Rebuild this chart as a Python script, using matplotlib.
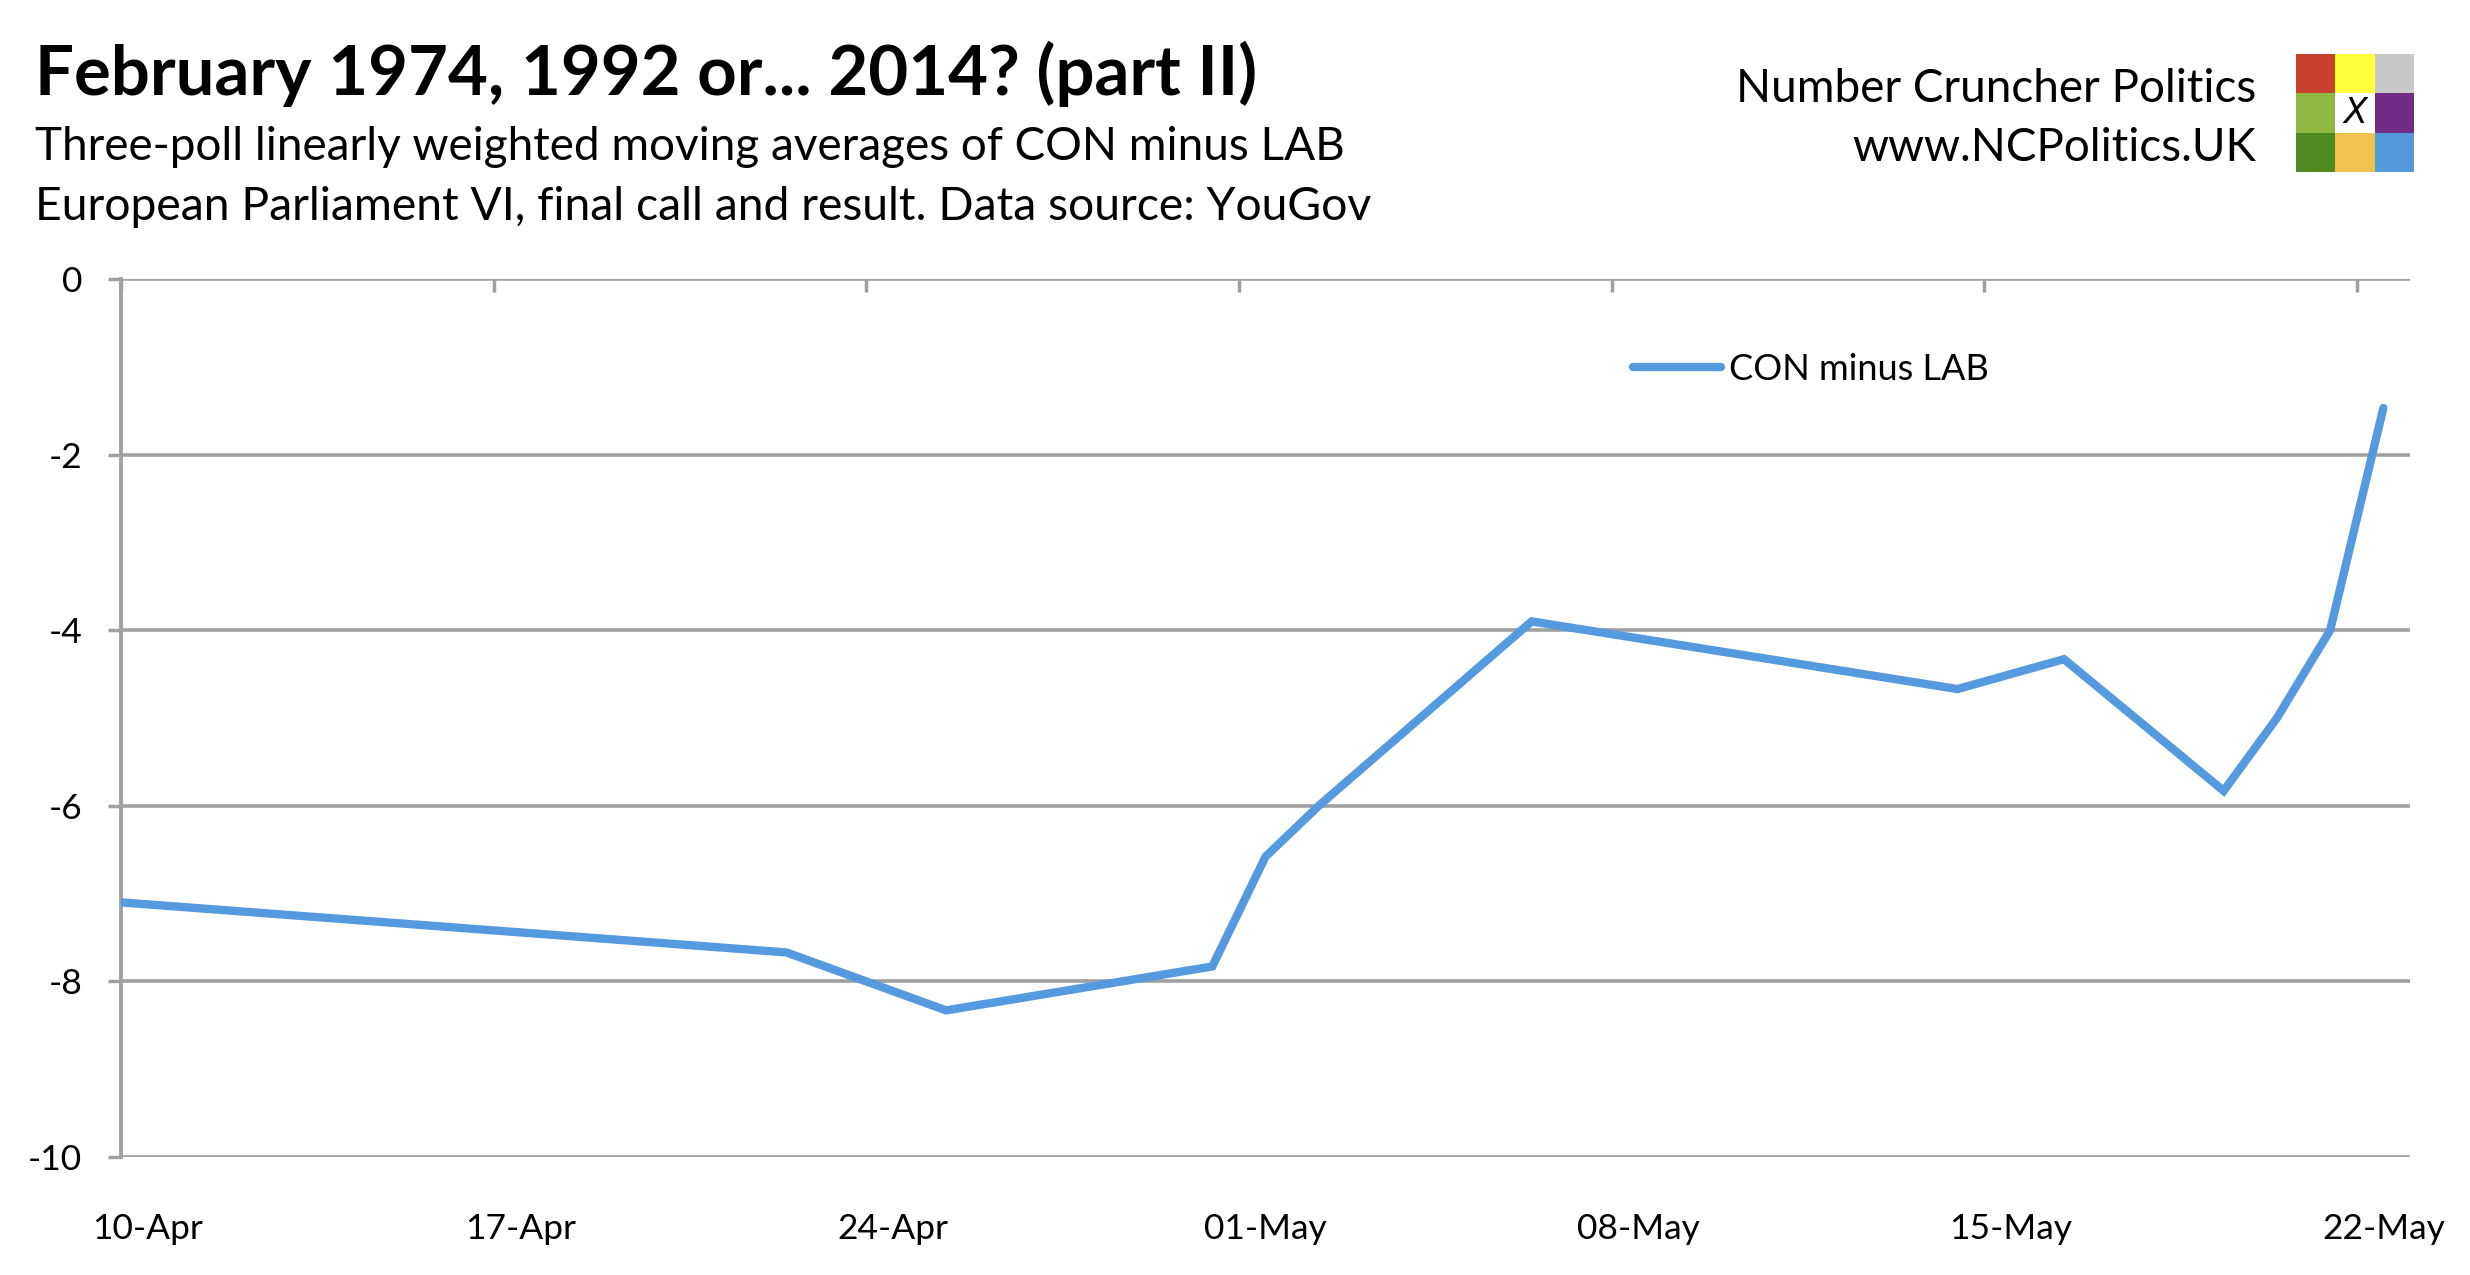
import numpy as np
import matplotlib
matplotlib.use("Agg")
import matplotlib.pyplot as plt
import matplotlib.dates as mdates
from matplotlib.patches import Rectangle

# poll averages, CON minus LAB (YouGov)
poll_times = np.array(['2014-04-10T00:00', '2014-04-22T12:00', '2014-04-25T12:00',
                       '2014-04-30T12:00', '2014-05-01T12:00', '2014-05-02T12:00',
                       '2014-05-06T12:00', '2014-05-14T12:00', '2014-05-16T12:00',
                       '2014-05-19T12:00', '2014-05-20T12:00', '2014-05-21T12:00',
                       '2014-05-22T12:00'], dtype='datetime64[m]')
con_minus_lab = [-7.1, -7.67, -8.33, -7.83, -6.58, -6.0, -3.9,
                 -4.67, -4.33, -5.83, -5.0, -4.0, -1.47]

tick_dates = np.array(['2014-04-10', '2014-04-17', '2014-04-24', '2014-05-01',
                       '2014-05-08', '2014-05-15', '2014-05-22'], dtype='datetime64[D]')
tick_labels = ['10-Apr', '17-Apr', '24-Apr', '01-May', '08-May', '15-May', '22-May']
y_ticks = [0, -2, -4, -6, -8, -10]

logo_colours = [['#C9402F', '#FFFF3C', '#C8C8C8'],
                ['#8FB840', '#FFFFFF', '#722C86'],
                ['#4E8A20', '#F0C250', '#5599DD']]

LINE = '#5599DE'
GRID = '#A0A0A0'
FONT = 'Lato'

W, H = 2470, 1275
fig = plt.figure(figsize=(W / 100, H / 100), dpi=100)
fig.patch.set_facecolor('white')

def fx(px):
    return px / W

def fy(py):
    return 1 - py / H

ax = fig.add_axes([fx(121), fy(1157), fx(2410) - fx(121), fy(279) - fy(1157)])

ax.plot(poll_times, con_minus_lab, color=LINE, lw=6, solid_capstyle='round',
        solid_joinstyle='miter', label='CON minus LAB', zorder=3)

ax.set_ylim(-10, 0)
ax.set_xlim(np.datetime64('2014-04-10'), np.datetime64('2014-05-23'))
ax.set_yticks(y_ticks)
ax.set_yticklabels([str(v) for v in y_ticks], fontsize=25.5, family=FONT)

# tick marks at the day boundaries, labels centred on the day
tick_num = mdates.date2num(tick_dates)
ax.xaxis.set_major_locator(plt.FixedLocator(tick_num))
ax.xaxis.set_minor_locator(plt.FixedLocator(tick_num + 0.5))
ax.xaxis.set_major_formatter(plt.NullFormatter())
ax.xaxis.set_minor_formatter(plt.FixedFormatter(tick_labels))
ax.tick_params(axis='x', which='major', top=True, bottom=False, labelbottom=False,
               direction='in', length=9, width=2.5, color=GRID)
ax.tick_params(axis='x', which='minor', top=False, bottom=True, length=0,
               labelbottom=True, labelsize=25.5, pad=40)
for lab in ax.get_xticklabels(minor=True):
    lab.set_family(FONT)
ax.tick_params(axis='y', direction='out', length=9.4, width=2.5, color=GRID, pad=18.5)

ax.grid(axis='y', color=GRID, lw=2.6, zorder=1)
ax.set_axisbelow(True)
for side in ['right', 'bottom', 'top']:
    ax.spines[side].set_visible(False)
ax.spines['left'].set_color(GRID)
ax.spines['left'].set_linewidth(2.8)

leg = ax.legend(loc='center left', bbox_to_anchor=(fx(1633), fy(369)),
                bbox_transform=fig.transFigure, frameon=False, borderpad=0,
                borderaxespad=0, handlelength=2.45, handletextpad=0.22,
                prop={'family': FONT, 'size': 26})

# titles
fig.text(fx(35), fy(95), 'February 1974, 1992 or... 2014? (part II)', family=FONT,
         fontweight='bold', fontsize=49.6, va='baseline', ha='left')
fig.text(fx(35), fy(160), 'Three-poll linearly weighted moving averages of CON minus LAB',
         family=FONT, fontsize=33, va='baseline', ha='left')
fig.text(fx(35), fy(220), 'European Parliament VI, final call and result. Data source: YouGov',
         family=FONT, fontsize=33.3, va='baseline', ha='left')

# branding
fig.text(fx(2256), fy(102), 'Number Cruncher Politics', family=FONT, fontsize=33,
         va='baseline', ha='right')
fig.text(fx(2256), fy(161), 'www.NCPolitics.UK', family=FONT, fontsize=33,
         va='baseline', ha='right')

cell = 39.3
x0, y0 = 2296, 54
for r, row in enumerate(logo_colours):
    for c, col in enumerate(row):
        fig.add_artist(Rectangle((fx(x0 + c * cell), fy(y0 + (r + 1) * cell)),
                                 fx(cell), cell / H, facecolor=col, edgecolor='none',
                                 transform=fig.transFigure))
fig.text(fx(x0 + 1.5 * cell), fy(y0 + 1.5 * cell), 'X', family='DejaVu Sans',
         fontstyle='italic', fontsize=25, ha='center', va='center')

fig.savefig('out.png', dpi=100)
